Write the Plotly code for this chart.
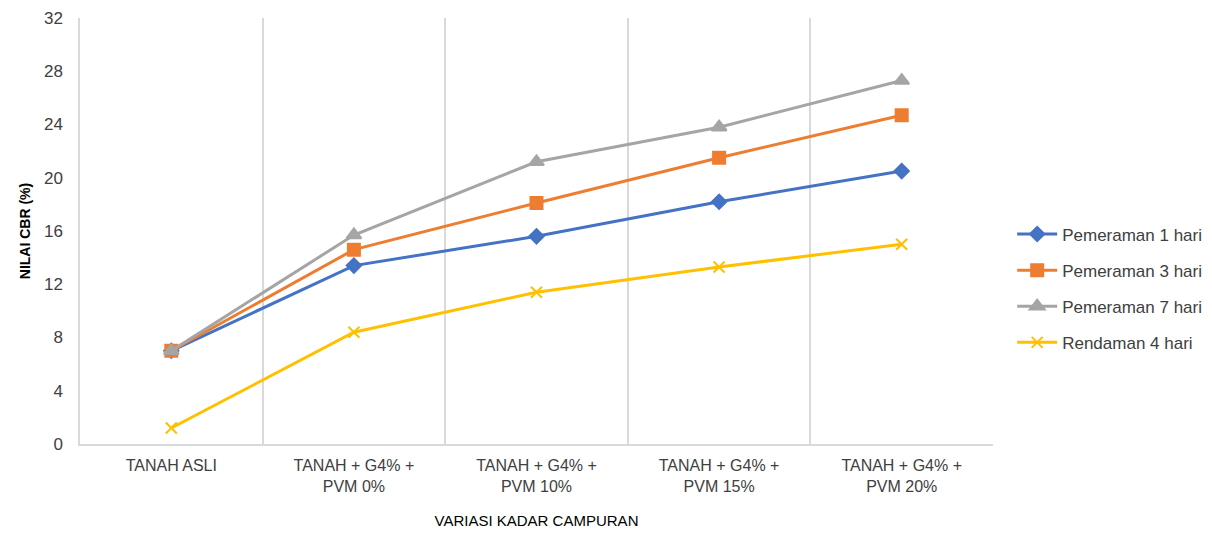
import plotly.graph_objects as go

categories = ["TANAH ASLI", "TANAH + G4% +<br>PVM 0%", "TANAH + G4% +<br>PVM 10%",
              "TANAH + G4% +<br>PVM 15%", "TANAH + G4% +<br>PVM 20%"]
pemeraman_1 = [7.0, 13.4, 15.6, 18.2, 20.5]
pemeraman_3 = [7.0, 14.6, 18.1, 21.5, 24.7]
pemeraman_7 = [7.0, 15.7, 21.2, 23.8, 27.3]
rendaman_4 = [1.2, 8.4, 11.4, 13.3, 15.0]

series = [
    ("Pemeraman 1 hari", pemeraman_1, "#4472C4", "diamond", 11),
    ("Pemeraman 3 hari", pemeraman_3, "#ED7D31", "square", 12),
    ("Pemeraman 7 hari", pemeraman_7, "#A5A5A5", "triangle-up", 13),
    ("Rendaman 4 hari", rendaman_4, "#FFC000", "x-thin-open", 11),
]

font_family = "Liberation Sans Narrow, Liberation Sans, Arial, sans-serif"

fig = go.Figure()
for name, vals, color, sym, size in series:
    fig.add_trace(go.Scatter(
        x=categories, y=vals, name=name, mode="lines+markers",
        legendgroup=name,
        line=dict(color=color, width=3),
        marker=dict(symbol=sym, size=size, color=color,
                    line=dict(color=color, width=2)),
    ))

fig.update_layout(
    width=1212, height=533,
    margin=dict(l=80, r=219, t=18, b=89, autoexpand=False),
    paper_bgcolor="white", plot_bgcolor="white",
    font=dict(family=font_family, color="#404040", size=15),
    showlegend=True,
    legend=dict(x=1.021, xanchor="left", y=0.365, yanchor="middle",
                font=dict(size=17, color="#404040"),
                tracegroupgap=11, traceorder="grouped",
                itemwidth=40, bgcolor="rgba(0,0,0,0)"),
    xaxis=dict(
        type="category", range=[-0.5, 4.5], tickson="boundaries",
        showgrid=True, gridcolor="#D9D9D9", gridwidth=1.5,
        showline=True, linecolor="#D9D9D9", linewidth=1.5,
        ticks="", tickfont=dict(size=16, color="#404040"),
        ticklabelstandoff=6,
        automargin=False,
        title=dict(text="VARIASI KADAR CAMPURAN", font=dict(size=15, color="#000000"), standoff=22),
        zeroline=False,
    ),
    yaxis=dict(
        range=[0, 32], tickvals=[0, 4, 8, 12, 16, 20, 24, 28, 32],
        showgrid=False, zeroline=False,
        showline=True, linecolor="#D9D9D9", linewidth=1.5,
        ticks="", ticklabelstandoff=12, automargin=False,
        tickfont=dict(size=17, color="#404040"),
        title=dict(text="<b>NILAI CBR (%)</b>", font=dict(size=14, color="#000000"), standoff=10),
    ),
)

fig.write_html("out.html", config={"displayModeBar": False},
               post_script="document.body.style.margin='0';document.body.style.overflow='hidden';")
